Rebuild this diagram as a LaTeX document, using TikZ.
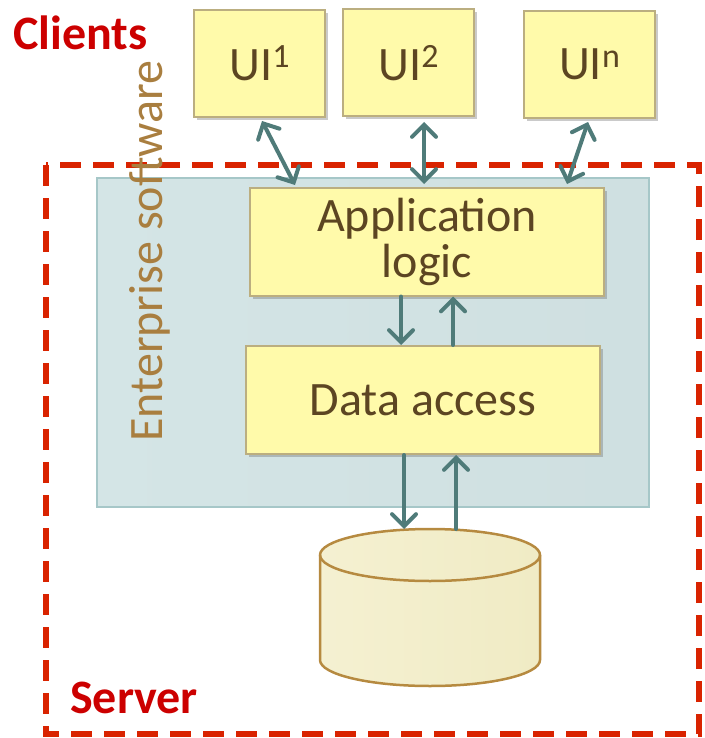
\documentclass[tikz,border=0pt]{standalone}
\usepackage{fontspec}
\setmainfont{Carlito}
\usetikzlibrary{arrows.meta,shadows,shapes.geometric}
\definecolor{boxfill}{HTML}{FFFAAA}
\definecolor{boxline}{HTML}{BBAE80}
\definecolor{boxtext}{HTML}{5C4522}
\definecolor{entfill}{HTML}{D4E5E6}
\definecolor{entline}{HTML}{A6C7C8}
\definecolor{enttext}{HTML}{A97E3F}
\definecolor{linkcol}{HTML}{4F7B79}
\definecolor{serverred}{HTML}{D92300}
\definecolor{labelred}{HTML}{CC0000}
\definecolor{dbfill}{HTML}{F2EDC6}
\definecolor{dbline}{HTML}{B68A40}
\newcommand{\supnum}[1]{\raisebox{0.55ex}{\fontsize{34}{36}\selectfont #1}}
\begin{document}
\begin{tikzpicture}[x=1pt,y=-1pt,
  yellowbox/.style={draw=boxline, line width=2pt, fill=boxfill, text=boxtext,
    font=\fontsize{48}{46}\selectfont, align=center, inner sep=0pt,
    drop shadow={shadow xshift=3pt, shadow yshift=-3pt, opacity=0.35, fill=black!60}},
  uibox/.style={yellowbox, minimum width=131pt, minimum height=107pt},
  tierbox/.style={yellowbox, minimum width=354pt, minimum height=108pt},
  link/.style={draw=linkcol, line width=4pt, line cap=round,
    -{Straight Barb[length=12pt, width=24pt, line cap=round]}},
  bilink/.style={link, {Straight Barb[length=12pt, width=24pt, line cap=round]}-{Straight Barb[length=12pt, width=24pt, line cap=round]}},
  redlabel/.style={text=labelred, font=\bfseries\fontsize{48}{50}\selectfont, inner sep=0pt}]
\useasboundingbox (0,0) rectangle (704,738);

% server boundary
\draw[serverred, line width=5.5pt, dash pattern=on 21pt off 12pt] (46,165) rectangle (699,734);

% enterprise software area
\shade[left color=entfill, right color=entfill!92!black!30!entfill, draw=entline, line width=2pt]
  (97,178) rectangle (649,507);
\node[rotate=90, text=enttext, font=\fontsize{48}{50}\selectfont, inner sep=0pt]
  (ent) at (150,251) {Enterprise software};

% clients
\node[uibox] (ui1) at (259.5,63.5) {UI\supnum{1}};
\node[uibox] (ui2) at (408.5,63) {UI\supnum{2}};
\node[uibox] (uin) at (589.5,64.5) {UI\supnum{n}};

% tiers
\node[tierbox] (app) at (427,241.5) {Application\\logic};
\node[tierbox] (data) at (423,400) {Data access};

% database cylinder
\path[draw=dbline, line width=2.5pt, left color=dbfill!80!white, right color=dbfill!90!black!8!dbfill]
  (320,555) -- (320,660) arc[start angle=180, end angle=360, x radius=110pt, y radius=26pt]
  -- (540,555) arc[start angle=0, end angle=180, x radius=110pt, y radius=26pt] -- cycle;
\draw[dbline, line width=2.5pt] (320,555) arc[start angle=180, end angle=360, x radius=110pt, y radius=26pt];
\coordinate (dbin) at (404,529);
\coordinate (dbout) at (456,529);

% labels
\node[redlabel, anchor=west] (clients) at (13,33) {Clients};
\node[redlabel, anchor=west] (server) at (70,698) {Server};

% connectors
\coordinate (a1) at (262,121);
\coordinate (a2) at (295,185);
\draw[bilink] (a1) -- (a2);
\coordinate (b1) at (424,122);
\coordinate (b2) at (424,184);
\draw[bilink] (b1) -- (b2);
\coordinate (c1) at (588,122);
\coordinate (c2) at (567,184);
\draw[bilink] (c1) -- (c2);
\draw[link] (app.south -| 401,0) -- (data.north -| 401,0);
\draw[link] (data.north -| 453,0) -- (app.south -| 453,0);
\draw[link] (data.south -| dbin) -- (dbin);
\draw[link] (dbout) -- (data.south -| dbout);
\end{tikzpicture}
\end{document}
